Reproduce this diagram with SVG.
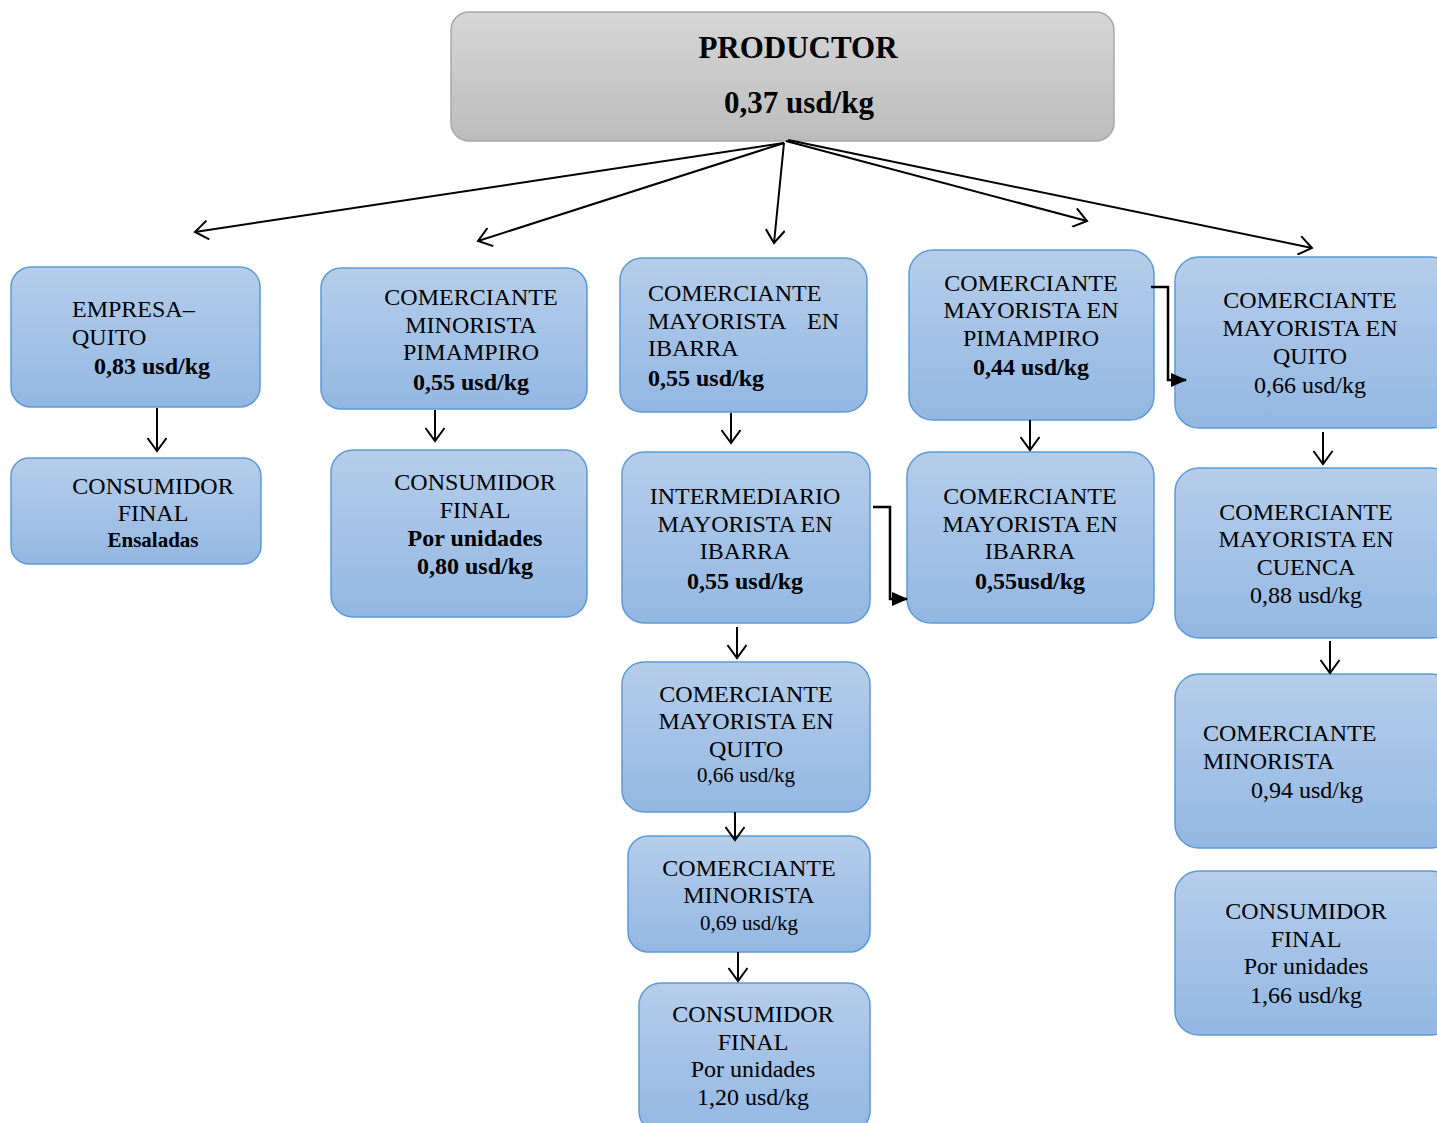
<svg xmlns="http://www.w3.org/2000/svg" width="1437" height="1123" viewBox="0 0 1437 1123">
<style>
.box{fill:url(#gBlue);stroke:#5b9bd5;stroke-width:1.5}
.top{fill:url(#gGray);stroke:#a8a8a8;stroke-width:1.5}
text{font-family:"Liberation Serif","Times New Roman",serif;font-size:24px;fill:#000}
.c{text-anchor:middle}
.b{font-weight:bold}
.s{font-size:21px}
.t{font-size:31px;font-weight:bold;text-anchor:middle}
.ln{fill:none;stroke:#000;stroke-width:2}
.el{fill:none;stroke:#000;stroke-width:2.5}
</style>
<defs>
<linearGradient id="gBlue" x1="0" y1="0" x2="0" y2="1">
<stop offset="0" stop-color="#b5cdea"/>
<stop offset="1" stop-color="#93b7e3"/>
</linearGradient>
<linearGradient id="gGray" x1="0" y1="0" x2="0" y2="1">
<stop offset="0" stop-color="#d6d6d6"/>
<stop offset="1" stop-color="#bcbcbc"/>
</linearGradient>
<marker id="open" viewBox="0 0 20 20" refX="18" refY="10" markerWidth="20" markerHeight="20" orient="auto" markerUnits="userSpaceOnUse">
<path d="M5,0.5 L18,10 L5,19.5" fill="none" stroke="#000" stroke-width="2"/>
</marker>
<marker id="fill" viewBox="0 0 16 14" refX="15" refY="7" markerWidth="16" markerHeight="14" orient="auto" markerUnits="userSpaceOnUse">
<path d="M0,0 L16,7 L0,14 Z" fill="#000"/>
</marker>
</defs>

<g id="productor">
<rect class="top" x="451" y="12" width="663" height="129" rx="18"/>
<text class="t" x="798" y="58">PRODUCTOR</text>
<text class="t" x="799" y="113">0,37 usd/kg</text>
</g>

<g id="empresa-quito">
<rect class="box" x="11" y="267" width="249" height="140" rx="20"/>
<text x="72" y="317">EMPRESA–</text>
<text x="72" y="345">QUITO</text>
<text class="b" x="94" y="374">0,83 usd/kg</text>
</g>

<g id="consumidor-ensaladas">
<rect class="box" x="11" y="458" width="250" height="106" rx="18"/>
<text class="c" x="153" y="494">CONSUMIDOR</text>
<text class="c" x="153" y="521">FINAL</text>
<text class="c b s" x="153" y="547">Ensaladas</text>
</g>

<g id="minorista-pimampiro">
<rect class="box" x="321" y="268" width="266" height="141" rx="20"/>
<text class="c" x="471" y="305">COMERCIANTE</text>
<text class="c" x="471" y="333">MINORISTA</text>
<text class="c" x="471" y="360">PIMAMPIRO</text>
<text class="c b" x="471" y="390">0,55 usd/kg</text>
</g>

<g id="consumidor-080">
<rect class="box" x="331" y="450" width="256" height="167" rx="22"/>
<text class="c" x="475" y="490">CONSUMIDOR</text>
<text class="c" x="475" y="518">FINAL</text>
<text class="c b" x="475" y="546">Por unidades</text>
<text class="c b" x="475" y="574">0,80 usd/kg</text>
</g>

<g id="mayorista-ibarra-1">
<rect class="box" x="620" y="258" width="247" height="154" rx="22"/>
<text x="648" y="301">COMERCIANTE</text>
<text x="648" y="329">MAYORISTA</text>
<text x="839" y="329" text-anchor="end">EN</text>
<text x="648" y="356">IBARRA</text>
<text class="b" x="648" y="386">0,55 usd/kg</text>
</g>

<g id="intermediario-ibarra">
<rect class="box" x="622" y="452" width="248" height="171" rx="22"/>
<text class="c" x="745" y="504">INTERMEDIARIO</text>
<text class="c" x="745" y="532">MAYORISTA EN</text>
<text class="c" x="745" y="559">IBARRA</text>
<text class="c b" x="745" y="589">0,55 usd/kg</text>
</g>

<g id="mayorista-quito-1">
<rect class="box" x="622" y="662" width="248" height="150" rx="22"/>
<text class="c" x="746" y="702">COMERCIANTE</text>
<text class="c" x="746" y="729">MAYORISTA EN</text>
<text class="c" x="746" y="757">QUITO</text>
<text class="c s" x="746" y="782">0,66 usd/kg</text>
</g>

<g id="minorista-069">
<rect class="box" x="628" y="836" width="242" height="116" rx="20"/>
<text class="c" x="749" y="876">COMERCIANTE</text>
<text class="c" x="749" y="903">MINORISTA</text>
<text class="c s" x="749" y="930">0,69 usd/kg</text>
</g>

<g id="consumidor-120">
<rect class="box" x="639" y="983" width="231" height="150" rx="22"/>
<text class="c" x="753" y="1022">CONSUMIDOR</text>
<text class="c" x="753" y="1050">FINAL</text>
<text class="c" x="753" y="1077">Por unidades</text>
<text class="c" x="753" y="1105">1,20 usd/kg</text>
</g>

<g id="mayorista-pimampiro">
<rect class="box" x="909" y="250" width="245" height="170" rx="24"/>
<text class="c" x="1031" y="291">COMERCIANTE</text>
<text class="c" x="1031" y="318">MAYORISTA EN</text>
<text class="c" x="1031" y="346">PIMAMPIRO</text>
<text class="c b" x="1031" y="375">0,44 usd/kg</text>
</g>

<g id="mayorista-ibarra-2">
<rect class="box" x="907" y="452" width="247" height="171" rx="24"/>
<text class="c" x="1030" y="504">COMERCIANTE</text>
<text class="c" x="1030" y="532">MAYORISTA EN</text>
<text class="c" x="1030" y="559">IBARRA</text>
<text class="c b" x="1030" y="589">0,55usd/kg</text>
</g>

<g id="mayorista-quito-2">
<rect class="box" x="1175" y="257" width="280" height="171" rx="24"/>
<text class="c" x="1310" y="308">COMERCIANTE</text>
<text class="c" x="1310" y="336">MAYORISTA EN</text>
<text class="c" x="1310" y="364">QUITO</text>
<text class="c" x="1310" y="393">0,66 usd/kg</text>
</g>

<g id="mayorista-cuenca">
<rect class="box" x="1175" y="468" width="280" height="170" rx="24"/>
<text class="c" x="1306" y="520">COMERCIANTE</text>
<text class="c" x="1306" y="547">MAYORISTA EN</text>
<text class="c" x="1306" y="575">CUENCA</text>
<text class="c" x="1306" y="603">0,88 usd/kg</text>
</g>

<g id="minorista-094">
<rect class="box" x="1175" y="674" width="280" height="174" rx="24"/>
<text x="1203" y="741">COMERCIANTE</text>
<text x="1203" y="769">MINORISTA</text>
<text x="1251" y="798">0,94 usd/kg</text>
</g>

<g id="consumidor-166">
<rect class="box" x="1175" y="871" width="280" height="164" rx="24"/>
<text class="c" x="1306" y="919">CONSUMIDOR</text>
<text class="c" x="1306" y="947">FINAL</text>
<text class="c" x="1306" y="974">Por unidades</text>
<text class="c" x="1306" y="1003">1,66 usd/kg</text>
</g>

<g id="connectors">
<line class="ln" x1="784" y1="143" x2="195" y2="232" marker-end="url(#open)"/>
<line class="ln" x1="784" y1="143" x2="478" y2="241" marker-end="url(#open)"/>
<line class="ln" x1="784" y1="143" x2="774" y2="243" marker-end="url(#open)"/>
<line class="ln" x1="786" y1="141" x2="1087" y2="221" marker-end="url(#open)"/>
<line class="ln" x1="788" y1="140" x2="1312" y2="248" marker-end="url(#open)"/>
<line class="ln" x1="157" y1="408" x2="157" y2="451" marker-end="url(#open)"/>
<line class="ln" x1="435" y1="410" x2="435" y2="441" marker-end="url(#open)"/>
<line class="ln" x1="731" y1="413" x2="731" y2="443" marker-end="url(#open)"/>
<line class="ln" x1="737" y1="627" x2="737" y2="658" marker-end="url(#open)"/>
<line class="ln" x1="735" y1="812" x2="735" y2="840" marker-end="url(#open)"/>
<line class="ln" x1="738" y1="952" x2="738" y2="981" marker-end="url(#open)"/>
<line class="ln" x1="1030" y1="420" x2="1030" y2="450" marker-end="url(#open)"/>
<line class="ln" x1="1323" y1="432" x2="1323" y2="464" marker-end="url(#open)"/>
<line class="ln" x1="1330" y1="641" x2="1330" y2="673" marker-end="url(#open)"/>
<polyline class="el" points="873,507 890,507 890,599 907,599" marker-end="url(#fill)"/>
<polyline class="el" points="1151,287 1168,287 1168,380 1186,380" marker-end="url(#fill)"/>
</g>
</svg>
